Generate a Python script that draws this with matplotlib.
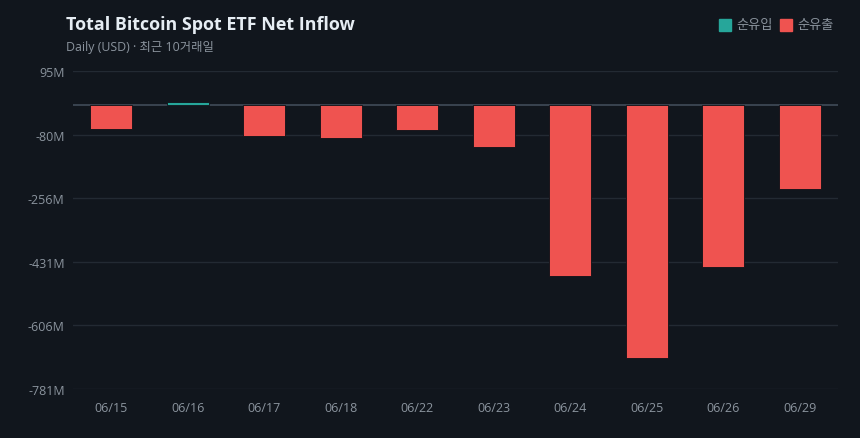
import numpy as np
import matplotlib
matplotlib.use("Agg")
import matplotlib.pyplot as plt

# daily net flow, million USD
dates = ["06/15", "06/16", "06/17", "06/18", "06/22", "06/23", "06/24", "06/25", "06/26", "06/29"]
flows = [-64, 9, -83, -90, -68, -114, -470, -696, -444, -231]
y_ticks = [95, -80, -256, -431, -606, -781]

bg = "#11161d"
up_col = "#26a69a"
down_col = "#ef5350"
grid_col = "#232a33"
txt_col = "#8b949e"

plt.rcParams['font.family'] = ['Open Sans', 'Noto Sans CJK KR', 'DejaVu Sans']

fig = plt.figure(figsize=(8.6, 4.39), dpi=100, facecolor=bg)
ax = fig.add_axes([73 / 860, 1 - 390 / 439, (838 - 73) / 860, (390 - 72) / 439])
ax.set_facecolor(bg)

x = np.arange(len(dates))
cols = [up_col if v >= 0 else down_col for v in flows]
ax.bar(x, flows, width=0.545, color=cols, edgecolor="#0d1117", linewidth=0.6, zorder=3)

ax.set_xlim(-0.5, len(dates) - 0.5)
ax.set_ylim(-781.4, 94.8)
ax.set_yticks(np.linspace(94.8, -781.4, 6))
ax.set_yticklabels([f"{v}M" for v in y_ticks])
ax.set_xticks(x)
ax.set_xticklabels(dates)

ax.grid(axis="y", color=grid_col, linewidth=1, zorder=0)
ax.axhline(0, color="#3a4450", linewidth=1.4, zorder=2)
for s in ax.spines.values():
    s.set_visible(False)
ax.tick_params(axis="both", length=0, colors=txt_col, labelsize=9)
ax.tick_params(axis="y", pad=6)
ax.tick_params(axis="x", pad=9)

fig.text(66 / 860, 1 - 25 / 439, "Total Bitcoin Spot ETF Net Inflow", color="#e6edf3",
         fontsize=12.9, fontweight="bold", va="center", ha="left")
fig.text(66 / 860, 1 - 48 / 439, "Daily (USD) · 최근 10거래일", color=txt_col,
         fontsize=8.9, va="center", ha="left")

# legend
for x0, c, lab in [(719, up_col, "순유입"), (780, down_col, "순유출")]:
    fig.patches.append(plt.Rectangle((x0 / 860, 1 - 32 / 439), 12 / 860, 12 / 439,
                                     transform=fig.transFigure, color=c))
    fig.text((x0 + 17) / 860, 1 - 26 / 439, lab, color=txt_col, fontsize=9.5,
             va="center", ha="left", family=['Noto Sans CJK KR', 'DejaVu Sans'])

fig.savefig("out.png", dpi=100, facecolor=bg)
